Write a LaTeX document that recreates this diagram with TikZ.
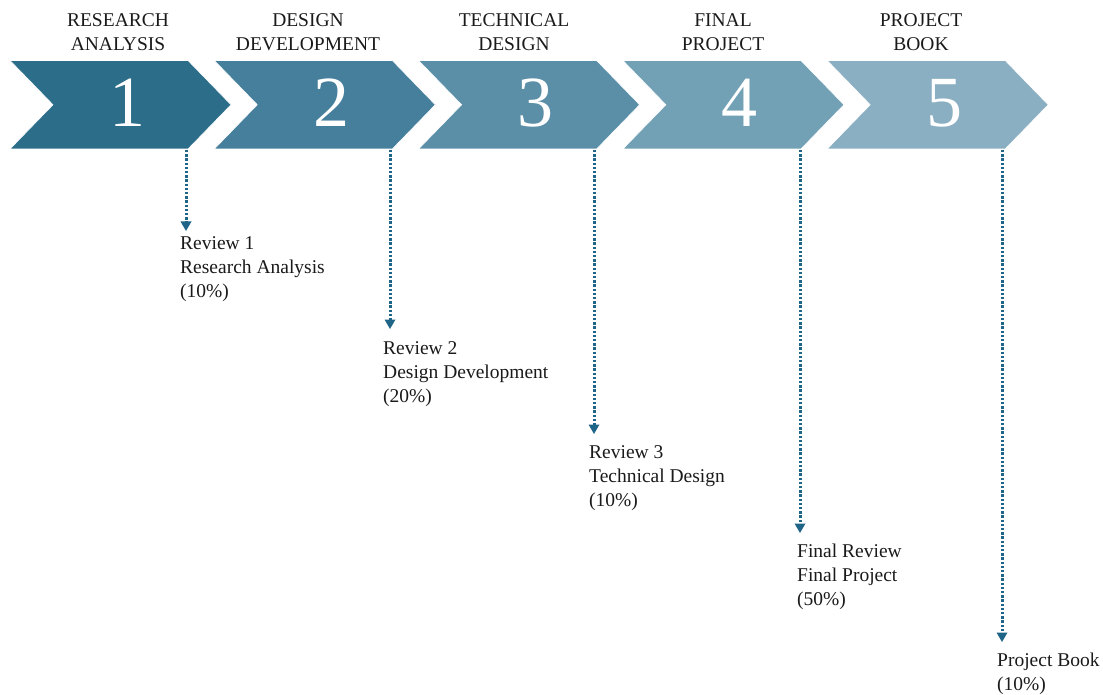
\documentclass[tikz,border=0pt]{standalone}
\usepackage{fontspec}
\setmainfont{Liberation Serif}
\usetikzlibrary{arrows.meta}
\definecolor{cA}{HTML}{2C6E8A}
\definecolor{cB}{HTML}{467F9C}
\definecolor{cC}{HTML}{5B8FA8}
\definecolor{cD}{HTML}{72A0B5}
\definecolor{cE}{HTML}{8AAFC2}
\definecolor{arrc}{HTML}{1F6587}
\definecolor{txt}{HTML}{1A1A1A}
\begin{document}
\begin{tikzpicture}[x=1pt,y=-1pt,
  chevron/.style={fill=#1, draw=white, line width=0.6pt},
  numtext/.style={text=white, font=\fontsize{72}{72}\selectfont, anchor=base, inner sep=0pt},
  headtext/.style={text=txt, font=\fontsize{19.5}{24}\selectfont, align=center, anchor=base, inner sep=0pt},
  revtext/.style={text=txt, font=\fontsize{19.5}{24}\selectfont, align=left, anchor=base west, inner sep=0pt},
  dotarrow/.style={draw=arrc, line width=3pt, dash pattern=on 2.4pt off 1.8pt,
    -{Triangle[width=11pt,length=9.5pt,fill=arrc,line width=0pt]}}]
\useasboundingbox (0,0) rectangle (1103,695);
\foreach \i/\c in {1/cA,2/cB,3/cC,4/cD,5/cE}{
  \pgfmathsetmacro\L{10+204.3*(\i-1)}
  \path[chevron=\c] (\L,60.5) -- ({\L+178},60.5) -- ({\L+221},104.75) -- ({\L+178},149)
     -- (\L,149) -- ({\L+43},104.75) -- cycle;
  \node[numtext] (num\i) at ({\L+117},127) {\i};
}
% headers (anchor = baseline of last line)
\node[headtext] (h1) at (118,51) {RESEARCH\\ANALYSIS};
\node[headtext] (h2) at (308,51) {DESIGN\\DEVELOPMENT};
\node[headtext] (h3) at (514,51) {TECHNICAL\\DESIGN};
\node[headtext] (h4) at (723,51) {FINAL\\PROJECT};
\node[headtext] (h5) at (921,51) {PROJECT\\BOOK};
% review texts (anchor = baseline of last line)
\node[revtext] (r1) at (180,297) {Review 1\\Research Analysis\\(10\%)};
\node[revtext] (r2) at (383,402) {Review 2\\Design Development\\(20\%)};
\node[revtext] (r3) at (589,506) {Review 3\\Technical Design\\(10\%)};
\node[revtext] (r4) at (797,605) {Final Review\\Final Project\\(50\%)};
\node[revtext] (r5) at (997,690) {Project Book\\(10\%)};
% connectors
\coordinate (s1) at (186,150); \coordinate (e1) at (186,231);
\coordinate (s2) at (390,150); \coordinate (e2) at (390,329);
\coordinate (s3) at (594,150); \coordinate (e3) at (594,434);
\coordinate (s4) at (800,150); \coordinate (e4) at (800,533);
\coordinate (s5) at (1002,150); \coordinate (e5) at (1002,642);
\foreach \i in {1,...,5}{\draw[dotarrow] (s\i) -- (e\i);}
\end{tikzpicture}
\end{document}
